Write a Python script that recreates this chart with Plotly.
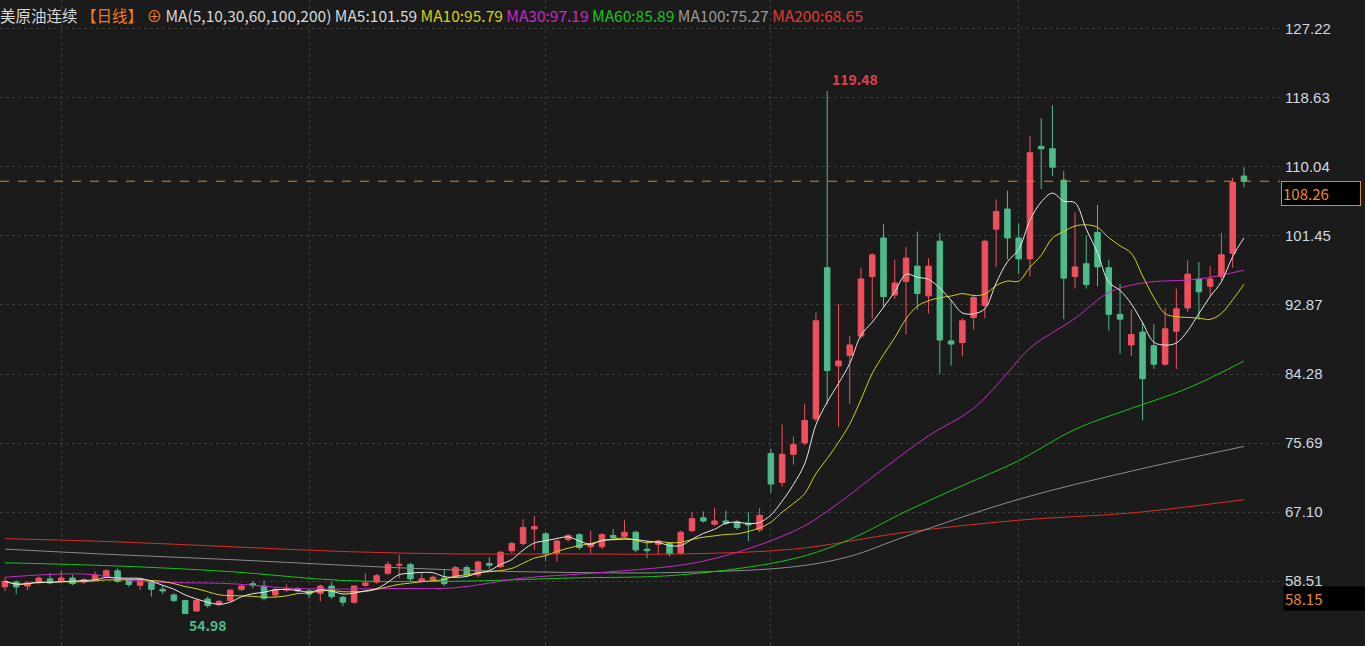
import numpy as np
import pandas as pd
import plotly.graph_objects as go

# daily candles, oldest first (red = up, green = down)
opens = [57.8, 58.4, 57.9, 58.3, 58.8, 58.5, 58.9, 58.4, 58.7, 59.1,
         59.8, 58.6, 58.0, 58.4, 57.5, 56.8, 56.1, 54.8, 56.3, 55.6,
         56.1, 57.5, 58.2, 57.9, 56.8, 57.4, 57.6, 57.3, 57.0, 57.9,
         56.5, 55.9, 58.0, 58.4, 59.5, 60.5, 60.6, 58.5, 58.7, 58.9,
         59.1, 60.2, 59.3, 60.7, 60.3, 62.3, 63.2, 65.0, 64.4, 62.0,
         63.7, 64.3, 62.8, 62.8, 64.2, 64.1, 64.6, 62.5, 63.1, 63.2,
         62.0, 64.8, 66.4, 65.6, 66.0, 65.9, 65.7, 64.9, 74.4, 70.8,
         74.3, 75.7, 78.7, 97.5, 85.3, 86.6, 89.0, 96.4, 101.2, 94.1,
         95.8, 97.7, 94.0, 100.8, 88.4, 88.2, 91.3, 92.8, 102.3, 104.8,
         101.2, 98.6, 112.6, 112.3, 108.4, 96.4, 98.0, 101.9, 97.5, 91.7,
         87.9, 89.5, 87.8, 85.5, 89.6, 92.5, 96.1, 95.2, 96.4, 99.3,
         108.9]
closes = [58.5, 57.8, 58.3, 58.9, 58.3, 58.9, 58.2, 58.7, 59.3, 59.8,
          58.5, 58.1, 58.6, 57.5, 57.3, 56.1, 54.5, 56.1, 55.5, 56.0,
          57.4, 57.9, 58.0, 56.4, 57.5, 57.6, 57.3, 56.9, 57.9, 56.6,
          55.9, 57.9, 58.3, 59.2, 60.6, 60.6, 58.8, 58.8, 59.0, 58.2,
          60.2, 59.3, 60.9, 60.5, 62.1, 63.2, 65.2, 65.3, 61.9, 63.5,
          64.2, 62.7, 63.2, 64.3, 63.9, 64.6, 62.4, 62.3, 63.5, 61.9,
          64.6, 66.3, 66.0, 66.0, 65.7, 65.2, 65.5, 66.7, 70.6, 74.3,
          75.5, 78.5, 90.9, 84.7, 85.9, 87.9, 96.1, 99.1, 93.9, 95.6,
          98.7, 94.3, 97.7, 88.5, 88.0, 90.9, 93.8, 100.8, 104.5, 101.2,
          98.6, 111.8, 112.3, 110.0, 96.2, 97.6, 95.4, 97.6, 91.7, 91.1,
          89.2, 83.7, 85.5, 89.9, 92.4, 96.7, 94.5, 96.1, 99.1, 108.1,
          108.26]
highs = [59.0, 58.6, 58.5, 59.1, 59.5, 59.8, 59.3, 58.9, 59.7, 60.0,
         60.1, 58.8, 58.8, 58.6, 58.0, 57.0, 56.2, 56.3, 56.6, 56.2,
         57.5, 58.1, 58.5, 58.6, 57.7, 58.1, 57.8, 57.5, 58.1, 58.4,
         56.7, 58.0, 59.5, 59.4, 61.0, 61.8, 60.8, 59.6, 59.2, 59.9,
         60.4, 60.5, 61.1, 61.5, 62.3, 63.4, 66.2, 66.6, 64.6, 63.7,
         64.4, 64.5, 64.8, 64.5, 65.0, 66.1, 64.8, 63.5, 63.7, 63.4,
         64.8, 67.1, 67.2, 67.6, 67.3, 66.1, 67.1, 67.6, 75.0, 78.0,
         76.5, 80.6, 91.9, 119.48, 93.0, 89.0, 97.5, 99.3, 102.9, 98.5,
         100.1, 102.0, 98.7, 101.8, 93.5, 91.2, 94.2, 101.0, 106.0, 107.1,
         103.0, 113.9, 116.1, 117.7, 109.5, 104.4, 101.5, 105.3, 98.5, 95.5,
         92.3, 90.8, 90.5, 92.5, 94.9, 98.4, 98.2, 97.7, 101.8, 108.7,
         110.0]
lows = [57.3, 56.9, 57.4, 58.1, 58.1, 58.3, 58.0, 58.2, 58.5, 58.9,
        58.3, 57.8, 57.4, 56.6, 56.9, 55.9, 54.98, 54.7, 55.2, 55.4,
        55.9, 57.3, 57.6, 56.1, 56.5, 57.2, 57.1, 56.4, 56.0, 56.3,
        55.4, 55.7, 57.8, 58.2, 59.3, 58.9, 58.5, 58.3, 58.5, 57.9,
        58.9, 59.0, 59.0, 60.0, 60.1, 62.0, 62.9, 62.4, 61.0, 60.9,
        63.4, 62.4, 61.9, 62.5, 63.7, 63.8, 62.1, 61.4, 61.9, 61.6,
        61.8, 64.6, 65.8, 65.4, 65.5, 64.9, 63.5, 64.6, 69.5, 70.3,
        73.0, 75.4, 78.4, 80.5, 77.7, 80.6, 88.7, 91.2, 92.6, 93.6,
        89.2, 92.3, 91.8, 84.3, 85.3, 86.5, 89.8, 91.2, 97.6, 98.5,
        96.7, 96.4, 107.3, 108.9, 91.1, 94.9, 94.9, 95.2, 89.7, 86.8,
        86.5, 78.5, 84.9, 85.3, 84.9, 92.0, 91.0, 93.9, 95.8, 97.5,
        107.5]

# long moving averages at sample candles
ma30_idx = [0, 7, 12, 20, 26, 35, 40, 46, 53, 62, 70, 73, 78, 82, 86, 89, 91, 95, 98, 101, 106, 110]
ma30_val = [59.0, 59.4, 58.5, 58.2, 57.6, 57.6, 57.7, 58.9, 59.6, 61.0, 64.7, 67.2, 72.5, 76.6,
            80.0, 84.4, 87.5, 91.2, 94.4, 95.6, 96.1, 97.19]
ma60_idx = [0, 10, 20, 30, 40, 50, 60, 70, 75, 80, 85, 90, 95, 100, 105, 110]
ma60_val = [60.8, 60.4, 59.7, 58.6, 58.5, 58.9, 59.3, 61.3, 63.7, 67.2, 70.4, 73.5, 77.4, 80.0, 82.5, 85.89]
ma100_idx = [0, 10, 20, 30, 40, 50, 60, 70, 75, 80, 90, 100, 110]
ma100_val = [62.5, 61.8, 61.2, 60.5, 59.9, 59.6, 59.6, 60.3, 61.6, 64.1, 68.7, 72.2, 75.27]
ma200_idx = [0, 10, 20, 30, 40, 50, 60, 70, 80, 90, 100, 110]
ma200_val = [63.8, 63.4, 62.8, 62.2, 61.9, 61.9, 61.9, 62.5, 64.6, 66.1, 67.0, 68.65]

tick_vals = [127.22, 118.63, 110.04, 101.45, 92.87, 84.28, 75.69, 67.10, 58.51]
month_lines = [5, 27, 48, 68, 90]

UP = "#f0505e"
DOWN = "#4fba8a"
BG = "#1b1b1b"

x = np.arange(len(closes))
s = pd.Series(closes)
ma5 = s.rolling(5, min_periods=1).mean()
ma10 = s.rolling(10, min_periods=1).mean()

fig = go.Figure()
fig.add_trace(go.Candlestick(
    x=x, open=opens, high=highs, low=lows, close=closes,
    increasing=dict(line=dict(color=UP, width=1), fillcolor=UP),
    decreasing=dict(line=dict(color=DOWN, width=1), fillcolor=DOWN),
    whiskerwidth=0, showlegend=False))

for xs, ys, col in [(ma200_idx, ma200_val, "#d4302c"), (ma100_idx, ma100_val, "#8c8c8c"),
                    (ma60_idx, ma60_val, "#19c419"), (ma30_idx, ma30_val, "#c42bc4"),
                    (x, ma10, "#d6cf1a"), (x, ma5, "#e8e8e8")]:
    fig.add_trace(go.Scatter(x=xs, y=ys, mode="lines", line=dict(color=col, width=1, shape="spline"),
                             showlegend=False, hoverinfo="skip"))

fig.add_hline(y=closes[-1], line=dict(color="#d98a2b", width=1, dash="dash"))

# header
header = [("美原油连续", "#d8d8d8"), ("【日线】", "#f07a1a"), ("⊕", "#f07a1a"),
          ("MA(5,10,30,60,100,200)", "#d8d8d8"), ("MA5:101.59", "#d8d8d8"),
          ("MA10:95.79", "#d6cf1a"), ("MA30:97.19", "#c42bc4"), ("MA60:85.89", "#19c419"),
          ("MA100:75.27", "#9a9a9a"), ("MA200:68.65", "#e03a3a")]
text = " ".join(f"<span style='color:{c}'>{t}</span>" for t, c in header)
fig.add_annotation(xref="paper", yref="paper", x=0, y=1, xanchor="left", yanchor="top",
                   yshift=-2, xshift=-2, text=text, showarrow=False, font=dict(size=15.5))

fig.add_annotation(x=73, y=highs[73], text="<b>119.48</b>", showarrow=False, xanchor="left",
                   yanchor="bottom", xshift=3, font=dict(color="#e0404e", size=14))
fig.add_annotation(x=16, y=lows[16], text="<b>54.98</b>", showarrow=False, xanchor="left",
                   yanchor="top", xshift=2, yshift=-3, font=dict(color="#4fba8a", size=14))

fig.add_annotation(xref="paper", x=1.0, y=closes[-1], text="108.26", showarrow=False,
                   xanchor="left", xshift=1, yshift=-12, bgcolor="#000000", bordercolor="#d98a2b",
                   borderwidth=1, width=76, align="left", font=dict(color="#f08a2a", size=15))
fig.add_annotation(xref="paper", x=1.0, y=58.51, text="58.15", showarrow=False,
                   xanchor="left", xshift=3, yshift=-17, bgcolor="#000000", width=80, align="left",
                   font=dict(color="#f08a2a", size=15))

fig.update_layout(
    width=1365, height=646, paper_bgcolor=BG, plot_bgcolor=BG,
    margin=dict(l=0, r=85, t=0, b=0),
    font=dict(family="Noto Sans CJK SC, Noto Sans, sans-serif"),
    xaxis=dict(range=[-0.44, 113.2], rangeslider=dict(visible=False), showticklabels=False,
               tickvals=month_lines, showgrid=True, gridcolor="#3a3a3a", griddash="dot",
               zeroline=False, showline=False),
    yaxis=dict(range=[50.45, 130.8], side="right", tickvals=tick_vals,
               ticktext=[f"{v:.2f}" for v in tick_vals], showgrid=True, gridcolor="#3a3a3a",
               griddash="dot", zeroline=False, ticklabelstandoff=4,
               tickfont=dict(color="#d0d8e0", size=15, family="Liberation Sans, Arial")),
)

fig.write_html("out.html", config={"displayModeBar": False},
               post_script="document.body.style.margin='0';"
               "document.body.style.background='#1b1b1b';")
